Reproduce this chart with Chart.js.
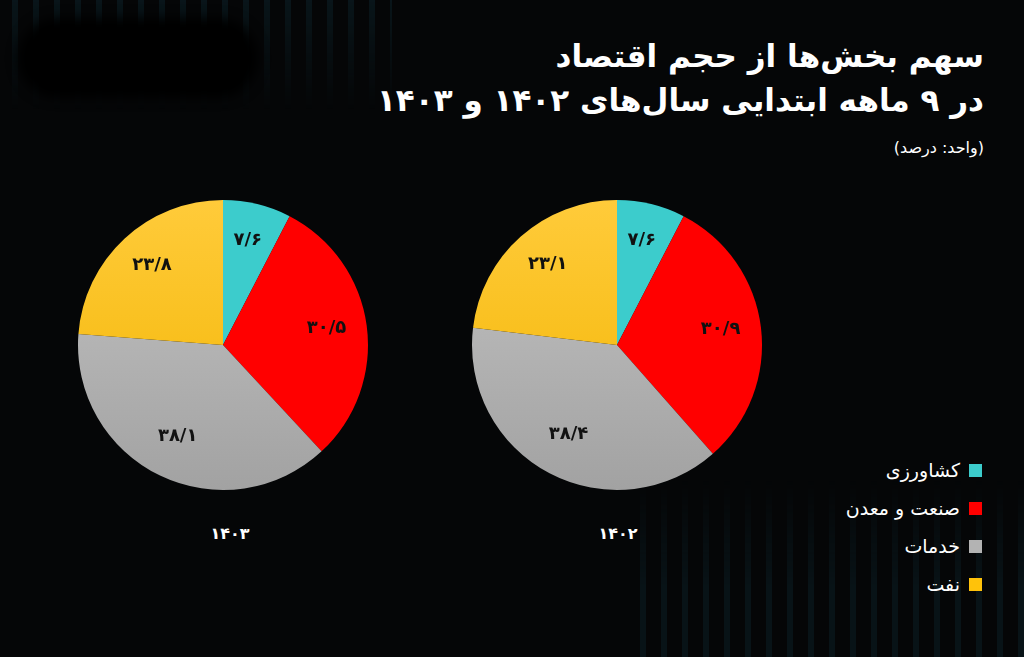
<!DOCTYPE html>
<html lang="fa">
<head>
<meta charset="utf-8">
<script src="https://cdn.jsdelivr.net/npm/chart.js@4.4.1/dist/chart.umd.min.js"></script>
<style>
  html, body { margin: 0; padding: 0; }
  body {
    width: 1024px; height: 657px; overflow: hidden; position: relative;
    background: #050607; font-family: "DejaVu Sans", sans-serif; color: #fff;
  }
  .deco { position: absolute; background: repeating-linear-gradient(90deg, #0b1c22 0 6px, transparent 6px 21px); }
  .blob { position: absolute; left: 18px; top: 18px; width: 240px; height: 80px; border-radius: 40px; background: #000; filter: blur(6px); }
  .title { position: absolute; right: 40px; top: 34px; direction: rtl; text-align: right;
    font-weight: bold; font-size: 31px; line-height: 44px; }
  .unit { position: absolute; right: 40px; top: 138px; direction: rtl; font-size: 16px; }
  .pie { position: absolute; top: 195px; width: 300px; height: 300px; }
  .year { position: absolute; top: 524px; width: 100px; text-align: center; font-weight: bold; font-size: 16px; }
  #legend { position: absolute; right: 42px; top: 451px; direction: rtl; }
  #legend div { height: 38px; display: flex; align-items: center; font-size: 19px; }
  #legend span { width: 13px; height: 13px; margin-left: 9px; display: inline-block; }
</style>
</head>
<body>
<div class="deco" style="left:12px;top:0;width:380px;height:110px;opacity:.7;-webkit-mask-image:linear-gradient(#000,transparent)"></div>
<div class="deco" style="left:640px;top:480px;width:384px;height:177px;opacity:.6;-webkit-mask-image:linear-gradient(transparent,#000 60%)"></div>
<div class="blob"></div>

<div class="title">سهم بخش‌ها از حجم اقتصاد<br>در ۹ ماهه ابتدایی سال‌های ۱۴۰۲ و ۱۴۰۳</div>
<div class="unit">(واحد: درصد)</div>

<div class="pie" style="left:73px"><canvas id="pie1403"></canvas></div>
<div class="pie" style="left:467px"><canvas id="pie1402"></canvas></div>
<div class="year" id="y1403" style="left:180px"></div>
<div class="year" id="y1402" style="left:568px"></div>
<div id="legend"></div>

<script>
var categories = ["کشاورزی", "صنعت و معدن", "خدمات", "نفت"];
var years = ["۱۴۰۳", "۱۴۰۲"];
var values1403 = [7.6, 30.5, 38.1, 23.8];
var values1402 = [7.6, 30.9, 38.4, 23.1];
var colors = ["#3ccccc", "#ff0000", "#b3b3b3", "#ffc20a"];

function faNum(v) {
    return String(v).replace(".", "/").replace(/\d/g, function(d) { return "۰۱۲۳۴۵۶۷۸۹"[d]; });
}

// gray and yellow slices have a soft vertical gradient
function fill(ctx) {
    var chart = ctx.chart, area = chart.chartArea;
    var i = ctx.dataIndex;
    if (!area || (i != 2 && i != 3)) return colors[i];
    var g = chart.ctx.createLinearGradient(0, area.top, 0, area.bottom);
    if (i == 2) { g.addColorStop(0, "#c4c4c4"); g.addColorStop(1, "#a2a2a2"); }
    else { g.addColorStop(0, "#ffcb3a"); g.addColorStop(1, "#f2b400"); }
    return g;
}

var sliceLabels = {
    id: "sliceLabels",
    afterDatasetsDraw: function(chart) {
        var ctx = chart.ctx;
        var meta = chart.getDatasetMeta(0);
        ctx.save();
        ctx.fillStyle = "#111";
        ctx.font = "bold 18px 'DejaVu Sans'";
        ctx.textAlign = "center";
        ctx.textBaseline = "middle";
        meta.data.forEach(function(arc, i) {
            var p = arc.getProps(["x", "y", "startAngle", "endAngle", "outerRadius"], true);
            var a = (p.startAngle + p.endAngle) / 2;
            var r = p.outerRadius * 0.72;
            ctx.fillText(faNum(chart.data.datasets[0].data[i]), p.x + Math.cos(a) * r, p.y + Math.sin(a) * r - 3);
        });
        ctx.restore();
    }
};

function renderPie(id, values) {
    return new Chart(document.getElementById(id), {
        type: "pie",
        data: {
            labels: categories,
            datasets: [{ data: values, backgroundColor: fill, borderWidth: 0 }]
        },
        options: {
            responsive: true,
            maintainAspectRatio: false,
            animation: false,
            layout: { padding: 5 },
            plugins: { legend: { display: false }, tooltip: { enabled: false } }
        },
        plugins: [sliceLabels]
    });
}

renderPie("pie1403", values1403);
renderPie("pie1402", values1402);
document.getElementById("y1403").textContent = years[0];
document.getElementById("y1402").textContent = years[1];

var legend = document.getElementById("legend");
categories.forEach(function(c, i) {
    var row = document.createElement("div");
    var sw = document.createElement("span");
    sw.style.background = colors[i];
    row.appendChild(sw);
    row.appendChild(document.createTextNode(c));
    legend.appendChild(row);
});
</script>
</body>
</html>
